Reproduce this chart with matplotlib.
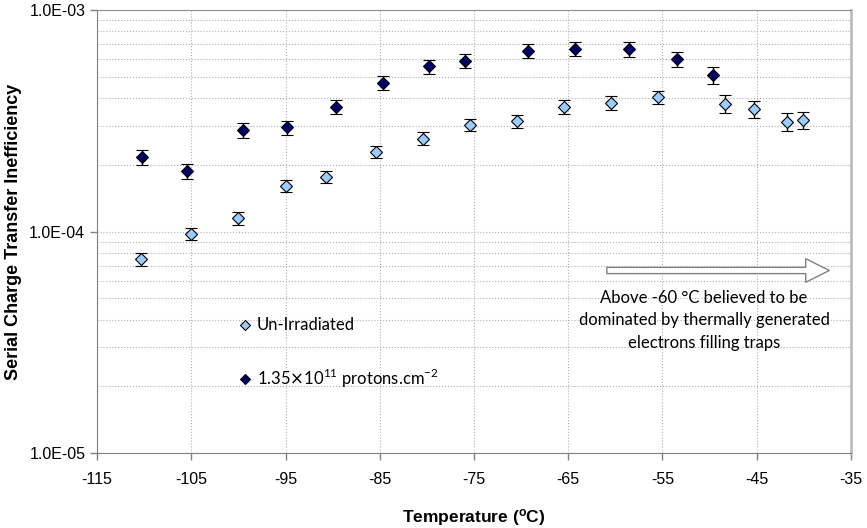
import numpy as np
import matplotlib.pyplot as plt
from matplotlib.ticker import FixedLocator, FuncFormatter, LogLocator, NullFormatter

plt.rcParams['axes.unicode_minus'] = False

# Un-irradiated CCD
temp_unirr = [-110.3, -105.0, -100.0, -95.0, -90.7, -85.4, -80.4, -75.4,
              -70.4, -65.4, -60.5, -55.5, -48.4, -45.3, -41.8, -40.1]
cti_unirr = [7.5e-5, 9.75e-5, 1.15e-4, 1.61e-4, 1.77e-4, 2.29e-4, 2.63e-4, 3.04e-4,
             3.15e-4, 3.66e-4, 3.82e-4, 4.04e-4, 3.78e-4, 3.58e-4, 3.13e-4, 3.18e-4]
relerr_unirr = [0.065, 0.065, 0.065, 0.065, 0.065, 0.065, 0.065, 0.065,
                0.065, 0.07, 0.07, 0.07, 0.095, 0.09, 0.09, 0.09]

# Irradiated CCD, 1.35e11 protons/cm2
temp_irr = [-110.2, -105.5, -99.5, -94.9, -89.7, -84.7, -79.8, -76.0,
            -69.3, -64.3, -58.6, -53.5, -49.6]
cti_irr = [2.16e-4, 1.87e-4, 2.87e-4, 2.95e-4, 3.66e-4, 4.69e-4, 5.56e-4, 5.89e-4,
           6.56e-4, 6.67e-4, 6.65e-4, 6.0e-4, 5.1e-4]
relerr_irr = [0.075, 0.075, 0.075, 0.075, 0.075, 0.075, 0.075, 0.075,
              0.075, 0.075, 0.075, 0.08, 0.09]

series_labels = ['Un-Irradiated',
                 r'1.35$\times$10$^{\mathregular{11}}$ protons.cm$^{\mathregular{-2}}$']

x_ticks = [-115, -105, -95, -85, -75, -65, -55, -45, -35]
y_ticks = [1e-5, 1e-4, 1e-3]

NARROW = ['Liberation Sans Narrow', 'Liberation Sans', 'DejaVu Sans']
BODY = ['Lato', 'DejaVu Sans']

fig = plt.figure(figsize=(8.67, 5.28), dpi=100)
ax = fig.add_axes([0.112, 0.142, 0.8695, 0.839])

def plot_series(t, v, rel, fc):
    v = np.array(v)
    err = v * np.array(rel)
    eb = ax.errorbar(t, v, yerr=err, fmt='D', ms=6.5, mfc=fc, mec='black', mew=0.8,
                     ecolor='black', elinewidth=1.0, capsize=4, capthick=1.0, zorder=3)
    return eb[0]

h1 = plot_series(temp_unirr, cti_unirr, relerr_unirr, '#99ccff')
h2 = plot_series(temp_irr, cti_irr, relerr_irr, '#000066')

def sci_fmt(v, pos):
    return '1.0E%03d' % int(round(np.log10(v)))

ax.set_yscale('log')
ax.set_xlim(-115, -35)
ax.set_ylim(1e-5, 1e-3)
ax.xaxis.set_major_locator(FixedLocator(x_ticks))
ax.yaxis.set_major_locator(FixedLocator(y_ticks))
ax.yaxis.set_major_formatter(FuncFormatter(sci_fmt))
ax.yaxis.set_minor_locator(LogLocator(base=10, subs=np.arange(2, 10)))
ax.yaxis.set_minor_formatter(NullFormatter())
ax.tick_params(axis='y', which='minor', length=0)
ax.tick_params(axis='both', which='major', length=5, color='#808080', width=1)
ax.tick_params(axis='x', which='major', pad=9)

for lab in ax.get_xticklabels() + ax.get_yticklabels():
    lab.set_family(NARROW)
    lab.set_fontsize(11.5)

ax.grid(True, which='major', axis='x', linestyle=':', color='#b0b0b0', lw=0.8)
ax.grid(True, which='both', axis='y', linestyle=':', color='#b0b0b0', lw=0.8)
ax.set_axisbelow(True)

for side in ['left', 'bottom']:
    ax.spines[side].set_color('#808080')
ax.spines['top'].set_color('#909090')
ax.spines['right'].set_color('#bdbdbd')
ax.spines['right'].set_linewidth(2)

ax.set_xlabel(r'Temperature ($\mathregular{^o}$C)', family=NARROW, fontsize=12.5,
              fontweight='bold', labelpad=14)
ax.set_ylabel('Serial Charge Transfer Inefficiency', family=NARROW, fontsize=13,
              fontweight='bold', labelpad=5)

leg = ax.legend(handles=[h1, h2], labels=series_labels, loc='upper left',
                bbox_to_anchor=(0.17, 0.34), frameon=False,
                prop={'family': BODY, 'size': 12}, labelspacing=2.0,
                handlelength=0.6, handletextpad=0.4, markerscale=0.75)

ax.text(-50.6, 5.45e-5, 'Above -60 \u00b0C believed to be\ndominated by thermally generated\n'
        'electrons filling traps', ha='center', va='top', family=BODY, fontsize=12,
        linespacing=1.5)
ax.annotate('', xy=(-37.0, 6.67e-5), xytext=(-61.2, 6.67e-5),
            arrowprops=dict(arrowstyle='simple,head_length=1.7,head_width=1.7,tail_width=0.45',
                            fc='white', ec='#808080', lw=1))

fig.savefig('out.png', dpi=100)
